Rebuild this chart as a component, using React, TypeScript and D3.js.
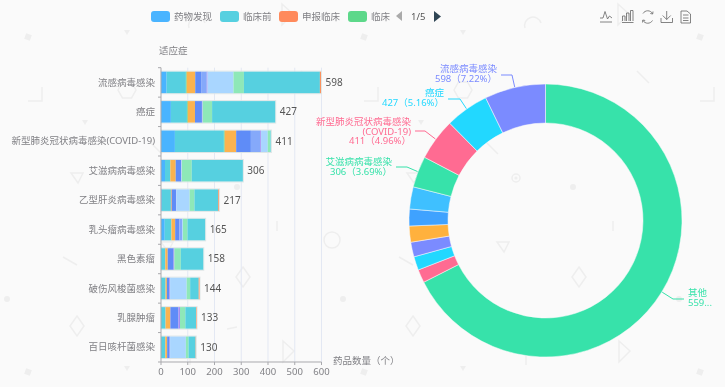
import React from "react";
import * as d3 from "d3";

const categories = ["流感病毒感染","癌症","新型肺炎冠状病毒感染(COVID-19)","艾滋病病毒感染","乙型肝炎病毒感染","乳头瘤病毒感染","黑色素瘤","破伤风梭菌感染","乳腺肿瘤","百日咳杆菌感染"];
const totals = [598,427,411,306,217,165,158,144,133,130];
const stageColors = ["#4ab4ff","#56d0e0","#5fd68c","#fbb34f","#5f8cf7","#85a9fa","#a48cf2","#a9d6ff","#8ee8b8","#56d0e0","#fb8f5a"];
const stageRows = [
  [21,72,3,32,22,21,3,97,39,284,4],
  [37,60,3,27,26,0,2,1,35,236,0],
  [52,183,3,43,55,35,3,25,10,2,0],
  [15,19,1,20,20,0,1,2,37,191,0],
  [3,34,0,3,16,0,1,50,18,89,3],
  [14,25,0,14,16,10,0,3,17,66,0],
  [0,16,0,9,22,0,3,0,24,84,0],
  [0,17,0,5,9,0,3,62,13,32,3],
  [0,17,0,18,30,0,6,0,20,40,2],
  [0,16,0,7,9,0,2,59,10,26,1],
];
const legendNames = ["药物发现","临床前","申报临床","临床"];
const legendColors = ["#4ab4ff","#56d0e0","#ff8a5c","#5dd88a"];
const xTicks = [0,100,200,300,400,500,600];
const pieNames = ["其他","百日咳杆菌感染","乳腺肿瘤","破伤风梭菌感染","黑色素瘤","乳头瘤病毒感染","乙型肝炎病毒感染","艾滋病病毒感染","新型肺炎冠状病毒感染(COVID-19)","癌症","流感病毒感染"];
const pieValues = [5594,130,133,144,158,165,217,306,411,427,598];
const pieColors = ["#37e2aa","#ff6b92","#22d8ff","#7b8bff","#ffb13d","#3fa2ff","#3fc0ff","#37e2aa","#ff6b92","#22d8ff","#7b8bff"];
const pieLabels = [
  {i:10,lines:["流感病毒感染","598（7.22%）"],x:497,y:72,dy:10,elbow:[512,75],end:[501,75],anchor:"end"},
  {i:9,lines:["癌症","427（5.16%）"],x:444,y:96,dy:10,elbow:[460,99],end:[448,99],anchor:"end"},
  {i:8,lines:["新型肺炎冠状病毒感染","(COVID-19)","411（4.96%）"],x:411,y:125,dy:9.5,elbow:[425,131],end:[415,131],anchor:"end"},
  {i:7,lines:["艾滋病病毒感染","306（3.69%）"],x:392,y:165,dy:9.5,elbow:[407,167],end:[396,167],anchor:"end"},
  {i:0,lines:["其他","559..."],x:688,y:296,dy:10,elbow:[673,299],end:[684,299],anchor:"start"},
];
const tile: [string,number,number][] = [
  ["sd",28,37],["st",127,32],["corner",35,94],["hex",127,90],["st",85,122],["tri",77,178],["dot",237,187],
  ["circ",332,240],["line",70,261],["dot",7,299],["dia",77,326],["sd",28,372],["st",127,368],
  ["hl",232,328],["vl",277,226],["tri",167,247],["dia",243,277],["tri2",288,352],["vl",190,360],
  ["arc",197,23],["tri2",287,15],["line2",307,77],["line2",156,148],["ring",180,178],
];

const FONT = "'Noto Sans','Noto Sans CJK SC',sans-serif";
const GREY = "#808085";

function Deco({k,x,y}:{k:string,x:number,y:number}){
  const c="#eeeeee";
  const s={fill:"none",stroke:c,strokeWidth:1.5};
  const t=`translate(${x},${y})`;
  switch(k){
    case "sd": return <rect transform={`${t} rotate(20)`} x={-3} y={-3} width={6} height={6} fill={c}/>;
    case "st": return <path transform={t} d="M-3,-2L3,-2L0,3Z" fill={c}/>;
    case "dot": return <circle cx={x} cy={y} r={3} fill={c}/>;
    case "ring": return <g><circle cx={x} cy={y} r={4} {...s}/><circle cx={x} cy={y} r={1.6} fill={c}/></g>;
    case "corner": return <path transform={t} d="M-7,7H7V-7" {...s}/>;
    case "hex": return <path transform={t} d="M-9,0L-4.5,-8H4.5L9,0L4.5,8H-4.5Z" {...s}/>;
    case "tri": return <path transform={t} d="M-6,-5H6L1,5Z" {...s}/>;
    case "tri2": return <path transform={t} d="M-5,-11L6,-1L-5,10Z" {...s}/>;
    case "circ": return <circle cx={x} cy={y} r={8} {...s}/>;
    case "line": return <path transform={t} d="M-7,-4L7,4" {...s}/>;
    case "line2": return <path transform={t} d="M-6,-6L6,6" {...s}/>;
    case "hl": return <path transform={t} d="M-5,1L5,-1" {...s}/>;
    case "vl": return <path transform={t} d="M0,-5V5" {...s}/>;
    case "dia": return <path transform={t} d="M0,-10L7,0L0,10L-7,0Z" {...s}/>;
    case "arc": return <path transform={t} d="M-8,5A8,8 0 0 1 8,0" {...s}/>;
    default: return null;
  }
}

export default function App(){
  const x=d3.scaleLinear().domain([0,600]).range([161,321.5]);
  const y=d3.scaleBand<string>().domain(categories).range([67.7,362]).paddingInner(0.27).paddingOuter(0.135);
  const cx=545.5, cy=220.5;
  const pie=d3.pie<number>().sort(null).value(d=>d)(pieValues);
  const arc=d3.arc<d3.PieArcDatum<number>>().innerRadius(97.5).outerRadius(136.5);
  const outer=d3.arc<d3.PieArcDatum<number>>().innerRadius(137).outerRadius(137);
  const stackSeries=d3.stack<number[],number>().keys(stageColors.map((_,i)=>i)).value((r,k)=>r[k])(stageRows);

  return (
    <svg width={725} height={387} style={{position:"fixed",left:0,top:0,background:"#fafafa",fontFamily:FONT,filter:"blur(0.35px)"}}>
      <g>
        {[0,336,672].flatMap(ox=>tile.map(([k,tx,ty],i)=><Deco key={ox+"-"+i} k={k} x={tx+ox} y={ty}/>))}
      </g>
      {(()=>{const xs=[151,220,279,348];return legendNames.map((n,i)=>(
        <g key={n}>
          <rect x={xs[i]} y={11} width={19} height={11} rx={3} fill={legendColors[i]}/>
          <text x={xs[i]+23} y={20} fontSize={9.5} fill={GREY}>{n}</text>
        </g>));})()}
      <path d="M402,11V21L396,16Z" fill="#aaa"/>
      <text x={411} y={20} fontSize={9.5} fill="#555">1/5</text>
      <path d="M434,11V22L441,16.5Z" fill="#2f4554"/>
      <g fill="none" stroke="#666" strokeWidth={0.8}>
        <path d="M600,22H612M600,18H603L605,11.5L607.5,19L609.5,16L612,18"/>
        <path d="M622,22.5H633.5M622.5,21V16H625V21M626.5,21V13H629V21M630.5,21V10.5H633V21"/>
        <path d="M643,13.5A5.5,5.5 0 0 1 652.5,13.5M652.5,20.5A5.5,5.5 0 0 1 643,20.5"/>
        <path d="M653,11.5L652.7,14L650.3,13.5M642.5,22.5L642.8,20L645.2,20.5"/>
        <path d="M661,18V22.5H672.5V18M666.7,11V19.5M662.7,15.5L666.7,19.5L670.7,15.5"/>
        <path d="M681,11H687L690.5,14V23H681ZM683,15H688.5M683,18H688.5M683,20.5H688.5"/>
      </g>
      {xTicks.slice(1).map(t=><line key={t} x1={x(t)} x2={x(t)} y1={67.7} y2={362} stroke="#e3e8f3" strokeWidth={1}/>)}
      <text x={159} y={54} fontSize={9.5} fill={GREY}>适应症</text>
      <text x={333} y={364} fontSize={9.5} fill={GREY}>药品数量（个）</text>
      {categories.map((c,i)=>(
        <rect key={c} x={x(0)} y={y(c)!-0.5} width={x(totals[i])-x(0)+0.5} height={y.bandwidth()+1} fill="none" stroke="#dfe6e6" strokeWidth={1}/>
      ))}
      {stackSeries.map((s,si)=>(
        <g key={si} fill={stageColors[si]}>
          {s.map((d,i)=> d[1]>d[0] ? <rect key={i} x={x(d[0])} y={y(categories[i])} width={x(d[1])-x(d[0])} height={y.bandwidth()}/> : null)}
        </g>
      ))}
      {categories.map((c,i)=>(
        <g key={c}>
          <text x={x(totals[i])+4.5} y={y(c)!+y.bandwidth()/2+3.5} fontSize={10} fill="#555">{totals[i]}</text>
          <text x={155} y={y(c)!+y.bandwidth()/2+3.2} fontSize={9.5} fill={GREY} textAnchor="end">{c}</text>
        </g>
      ))}
      <g stroke="#a9a9ad" strokeWidth={1} fill="none">
        <line x1={161} x2={161} y1={67.7} y2={362}/>
        <line x1={161} x2={321.5} y1={362} y2={362}/>
        {d3.range(11).map(i=><line key={i} x1={158} x2={161} y1={67.7+i*29.43} y2={67.7+i*29.43}/>)}
        {xTicks.map(t=><line key={t} x1={x(t)} x2={x(t)} y1={362} y2={365}/>)}
      </g>
      {xTicks.map(t=><text key={t} x={x(t)} y={375} fontSize={9.5} fill={GREY} textAnchor="middle">{t}</text>)}
      <g transform={`translate(${cx},${cy})`}>
        {pie.map((d,i)=><path key={pieNames[i]} d={arc(d)!} fill={pieColors[i]} stroke="#fafafa" strokeWidth={0.5}/>)}
      </g>
      {pieLabels.map(l=>{
        const [ox,oy]=outer.centroid(pie[l.i]);
        return (
          <g key={l.i}>
            <path d={`M${cx+ox},${cy+oy}L${l.elbow[0]},${l.elbow[1]}L${l.end[0]},${l.end[1]}`} fill="none" stroke={pieColors[l.i]} strokeWidth={1}/>
            {l.lines.map((t,j)=><text key={j} x={l.x} y={l.y+j*l.dy} fontSize={9.5} fill={pieColors[l.i]} textAnchor={l.anchor as any}>{t}</text>)}
          </g>
        );
      })}
    </svg>
  );
}
